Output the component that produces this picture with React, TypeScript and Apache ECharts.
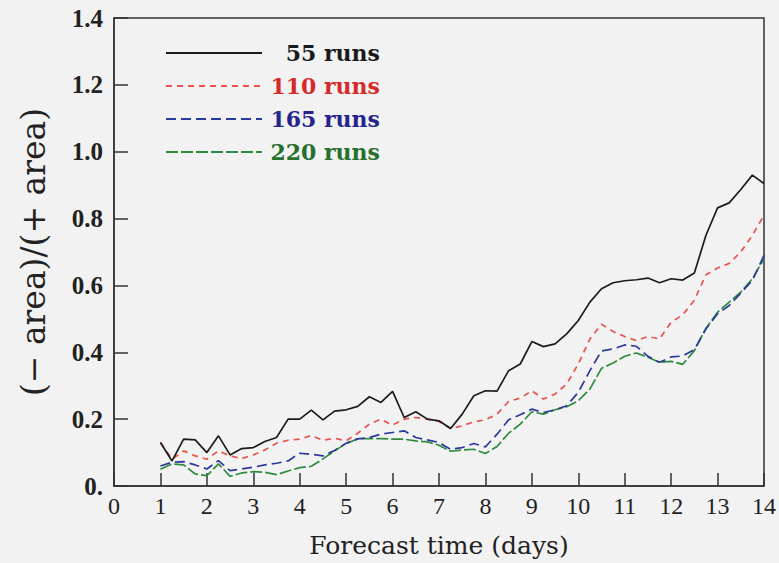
import React, { useEffect, useRef } from "react";
import * as echarts from "echarts";

const days = [
  1, 1.25, 1.5, 1.75, 2, 2.25, 2.5, 2.75, 3, 3.25, 3.5, 3.75, 4, 4.25, 4.5, 4.75,
  5, 5.25, 5.5, 5.75, 6, 6.25, 6.5, 6.75, 7, 7.25, 7.5, 7.75, 8, 8.25, 8.5, 8.75,
  9, 9.25, 9.5, 9.75, 10, 10.25, 10.5, 10.75, 11, 11.25, 11.5, 11.75, 12, 12.25,
  12.5, 12.75, 13, 13.25, 13.5, 13.75, 14,
];

const runs55 = [
  0.13, 0.075, 0.14, 0.138, 0.1, 0.15, 0.093, 0.112, 0.115, 0.133, 0.145, 0.2,
  0.2, 0.227, 0.198, 0.224, 0.228, 0.238, 0.267, 0.25, 0.283, 0.205, 0.222, 0.2,
  0.195, 0.172, 0.215, 0.27, 0.285, 0.284, 0.345, 0.365, 0.432, 0.417, 0.425,
  0.455, 0.495, 0.55, 0.59, 0.608, 0.614, 0.617, 0.622, 0.608, 0.62, 0.616,
  0.637, 0.75, 0.832, 0.847, 0.887, 0.93, 0.905,
];

const runs110 = [
  0.13, 0.08, 0.105, 0.09, 0.08, 0.105, 0.09, 0.082, 0.093, 0.108, 0.128, 0.137,
  0.14, 0.151, 0.137, 0.143, 0.135, 0.158, 0.185, 0.2, 0.182, 0.2, 0.205, 0.2,
  0.193, 0.172, 0.18, 0.192, 0.198, 0.215, 0.253, 0.263, 0.285, 0.26, 0.275,
  0.305, 0.365, 0.44, 0.484, 0.462, 0.447, 0.435, 0.447, 0.44, 0.49, 0.512,
  0.556, 0.632, 0.652, 0.666, 0.7, 0.75, 0.81,
];

const runs165 = [
  0.06, 0.071, 0.073, 0.063, 0.051, 0.076, 0.046, 0.051, 0.056, 0.063, 0.068,
  0.075, 0.098, 0.095, 0.09, 0.106, 0.128, 0.141, 0.145, 0.155, 0.16, 0.165,
  0.145, 0.138, 0.13, 0.11, 0.115, 0.127, 0.117, 0.155, 0.198, 0.213, 0.23, 0.22,
  0.228, 0.24, 0.28, 0.345, 0.404, 0.41, 0.422, 0.418, 0.388, 0.37, 0.386, 0.389,
  0.408, 0.47, 0.515, 0.54, 0.577, 0.615, 0.69,
];

const runs220 = [
  0.05, 0.066, 0.063, 0.036, 0.031, 0.066, 0.029, 0.039, 0.043, 0.041, 0.034,
  0.045, 0.055, 0.059, 0.081, 0.105, 0.127, 0.141, 0.142, 0.142, 0.14, 0.14,
  0.135, 0.132, 0.122, 0.104, 0.108, 0.11, 0.097, 0.118, 0.158, 0.185, 0.222,
  0.215, 0.228, 0.237, 0.255, 0.29, 0.352, 0.368, 0.388, 0.398, 0.385, 0.37,
  0.373, 0.364, 0.405, 0.472, 0.52, 0.55, 0.58, 0.62, 0.68,
];

const seriesNames = ["55 runs", "110 runs", "165 runs", "220 runs"];
const seriesValues = [runs55, runs110, runs165, runs220];
const lineColors = ["#1c1c1c", "#e8534e", "#2b3a9a", "#2e8b3e"];
const textColors = ["#1a1a1a", "#d42a2a", "#24248c", "#26702e"];
const dashes: (number[] | "solid")[] = ["solid", [6, 5], [10, 5], [12, 3]];

export default function App() {
  const ref = useRef<HTMLDivElement>(null);
  useEffect(() => {
    if (!ref.current) return;
    const chart = echarts.init(ref.current, undefined, { renderer: "svg" });
    const series = seriesNames.map((name, i) => ({
      name,
      type: "line",
      data: days.map((d, k) => [d, seriesValues[i][k]]),
      symbol: "none",
      lineStyle: { color: lineColors[i], width: 1.7, type: dashes[i] },
      itemStyle: { color: lineColors[i] },
      z: 10 - i,
    }));
    chart.setOption({
      animation: false,
      backgroundColor: "#f2f2f2",
      grid: {
        left: 114,
        right: 11,
        top: 18,
        bottom: 76,
        show: true,
        borderColor: "#333",
        borderWidth: 1.5,
        backgroundColor: "transparent",
      },
      legend: {
        orient: "vertical",
        left: 160,
        top: 36,
        itemWidth: 96,
        itemHeight: 14,
        itemGap: 9,
        itemStyle: { opacity: 0 },
        formatter: (n: string) => "{t|" + n + "}",
        data: seriesNames.map((n, i) => ({
          name: n,
          textStyle: {
            color: textColors[i],
            rich: {
              t: {
                width: 113,
                align: "right",
                color: textColors[i],
                fontFamily: "DejaVu Serif",
                fontWeight: "bold",
                fontSize: 22,
                lineHeight: 24,
              },
            },
          },
        })),
        textStyle: {
          fontFamily: "DejaVu Serif",
          fontWeight: "bold",
          fontSize: 22,
          lineHeight: 24,
        },
      },
      xAxis: {
        type: "value",
        min: 0,
        max: 14,
        interval: 1,
        name: "Forecast time (days)",
        nameLocation: "middle",
        nameGap: 47,
        nameTextStyle: { fontFamily: "DejaVu Serif", fontSize: 25, color: "#222" },
        axisLine: { lineStyle: { color: "#333", width: 1.5 } },
        axisTick: { inside: true, length: 13, lineStyle: { color: "#333", width: 1.5 } },
        axisLabel: {
          fontFamily: "Liberation Serif",
          fontSize: 24,
          color: "#222",
          margin: 8,
          showMinLabel: true,
          showMaxLabel: true,
        },
        splitLine: { show: false },
      },
      yAxis: {
        type: "value",
        min: 0,
        max: 1.4,
        interval: 0.2,
        name: "(\u2212 area)/(+ area)",
        nameLocation: "middle",
        nameGap: 64,
        nameTextStyle: { fontFamily: "DejaVu Serif", fontSize: 33, color: "#222" },
        axisLine: { lineStyle: { color: "#333", width: 1.5 } },
        axisTick: { inside: true, length: 14, lineStyle: { color: "#333", width: 1.5 } },
        axisLabel: {
          fontFamily: "Liberation Serif",
          fontWeight: "bold",
          fontSize: 25,
          color: "#222",
          margin: 11,
          formatter: (v: number) => (v === 0 ? "0." : v.toFixed(1)),
        },
        splitLine: { show: false },
      },
      series,
    });
    return () => chart.dispose();
  }, []);
  return (
    <div
      ref={ref}
      style={{ position: "fixed", left: 0, top: 0, width: 779, height: 563 }}
    />
  );
}
